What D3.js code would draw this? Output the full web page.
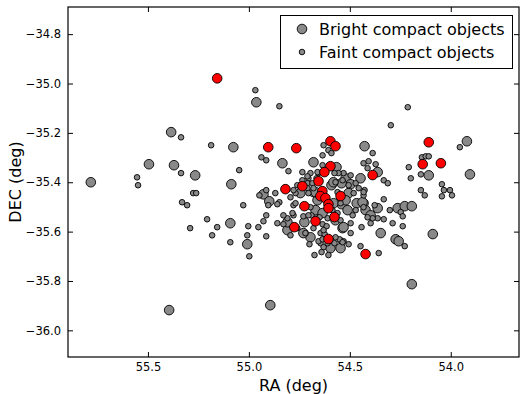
<!DOCTYPE html>
<html>
<head>
<meta charset="utf-8">
<script src="https://cdn.jsdelivr.net/npm/d3@7"></script>
<style>
	html, body { margin: 0; padding: 0; background: #fff; }
	svg { display: block; font-family: "DejaVu Sans", sans-serif; }
</style>
</head>
<body>
<svg id="chart"></svg>
<script>
// bright compact objects [RA, DEC]
const bright = [
	[55.783,-35.400],[55.495,-35.327],[55.385,-35.197],[55.371,-35.331],[55.266,-35.372],
	[55.087,-35.408],[55.077,-35.258],[54.963,-35.076],[55.092,-35.566],[55.008,-35.651],
	[55.395,-35.918],[54.928,-35.449],[54.899,-35.477],[54.834,-35.323],[54.680,-35.319],
	[54.427,-35.254],[54.566,-35.339],[54.447,-35.384],[54.521,-35.384],[53.920,-35.234],
	[54.109,-35.372],[53.905,-35.368],[54.362,-35.359],[54.432,-35.485],[54.422,-35.513],
	[54.397,-35.534],[54.362,-35.505],[54.263,-35.505],[54.228,-35.497],[54.193,-35.497],
	[54.347,-35.606],[54.273,-35.631],[54.258,-35.639],[54.089,-35.610],[54.193,-35.813],
	[54.894,-35.898],[54.809,-35.594],[54.725,-35.562],[54.695,-35.623],[54.536,-35.586],
	[54.596,-35.667],[54.546,-35.667],[54.541,-35.489],[54.571,-35.554],[54.665,-35.525],
	[54.466,-35.485],[54.591,-35.412],[54.496,-35.408],[54.745,-35.444],[54.680,-35.440],
	[54.506,-35.444],[54.521,-35.473],[54.437,-35.481],[54.660,-35.473],[54.581,-35.485],
	[54.670,-35.513],[54.635,-35.525],[54.511,-35.513],[54.531,-35.582],[54.730,-35.606],
	[54.541,-35.404],[54.581,-35.400],[54.670,-35.440],[54.809,-35.562],
];

// faint compact objects [RA, DEC]
const faint = [
	[54.968,-35.027],[55.336,-35.218],[55.187,-35.250],[55.336,-35.363],[55.554,-35.380],
	[55.549,-35.412],[55.048,-35.351],[55.276,-35.444],[55.261,-35.444],[54.849,-35.092],
	[54.213,-35.096],[54.297,-35.169],[53.955,-35.258],[54.630,-35.250],[54.635,-35.291],
	[54.606,-35.270],[54.591,-35.282],[54.387,-35.282],[54.432,-35.323],[54.407,-35.315],
	[54.372,-35.327],[54.412,-35.343],[54.635,-35.331],[54.804,-35.355],[54.938,-35.299],
	[54.914,-35.311],[54.208,-35.339],[54.198,-35.384],[54.143,-35.299],[54.124,-35.295],
	[54.109,-35.295],[54.148,-35.368],[54.044,-35.408],[54.034,-35.432],[54.004,-35.432],
	[53.994,-35.453],[54.129,-35.453],[54.044,-35.457],[54.332,-35.392],[54.312,-35.404],
	[54.496,-35.372],[54.531,-35.363],[54.556,-35.363],[54.695,-35.363],[54.705,-35.384],
	[54.710,-35.404],[54.769,-35.444],[54.655,-35.363],[55.331,-35.481],[55.306,-35.493],
	[55.207,-35.550],[55.157,-35.582],[55.291,-35.586],[55.182,-35.615],[55.028,-35.493],
	[55.003,-35.578],[55.008,-35.615],[55.092,-35.643],[54.998,-35.700],[54.953,-35.582],
	[54.948,-35.453],[54.914,-35.432],[54.914,-35.534],[54.928,-35.558],[54.914,-35.619],
	[54.849,-35.481],[54.904,-35.493],[54.859,-35.489],[54.779,-35.493],[54.829,-35.570],
	[54.809,-35.546],[54.779,-35.534],[54.730,-35.538],[54.690,-35.534],[54.650,-35.542],
	[54.635,-35.570],[54.615,-35.578],[54.645,-35.606],[54.625,-35.610],[54.700,-35.651],
	[54.675,-35.695],[54.645,-35.647],[54.630,-35.663],[54.640,-35.683],[54.606,-35.695],
	[54.576,-35.647],[54.546,-35.635],[54.531,-35.639],[54.506,-35.651],[54.496,-35.606],
	[54.486,-35.534],[54.442,-35.582],[54.447,-35.659],[54.397,-35.566],[54.357,-35.687],
	[54.332,-35.550],[54.288,-35.566],[54.238,-35.578],[54.228,-35.659],[54.302,-35.513],
	[54.148,-35.432],[54.720,-35.606],[54.655,-35.639],[54.635,-35.631],[54.610,-35.647],
	[54.551,-35.631],[54.536,-35.643],[54.427,-35.432],[54.432,-35.453],[54.248,-35.521],
	[54.238,-35.538],[54.362,-35.546],[54.387,-35.546],[54.412,-35.542],[54.377,-35.493],
	[54.332,-35.469],[54.576,-35.363],[54.710,-35.376],[54.665,-35.384],[54.660,-35.359],
	[54.735,-35.392],[54.760,-35.412],[54.779,-35.432],[54.685,-35.404],[54.680,-35.424],
	[54.710,-35.424],[54.705,-35.444],[54.571,-35.400],[54.536,-35.392],[54.506,-35.412],
	[54.471,-35.404],[54.456,-35.424],[54.432,-35.440],[54.481,-35.444],[54.561,-35.440],
	[54.794,-35.461],[54.869,-35.444],[54.769,-35.485],[54.695,-35.501],[54.586,-35.513],
	[54.561,-35.525],[54.546,-35.485],[54.471,-35.513],[54.432,-35.501],[54.610,-35.546],
	[54.546,-35.554],[54.496,-35.566],[54.705,-35.534],[54.784,-35.525],[54.829,-35.534],
	[54.859,-35.566],[54.760,-35.586],[54.680,-35.586],[54.630,-35.594],[54.571,-35.623],
	[54.794,-35.615],[54.735,-35.359],
];

// highlighted objects (red) [RA, DEC]
const marked = [
	[55.157,-34.979],[54.904,-35.258],[54.765,-35.262],[54.596,-35.234],[54.571,-35.254],
	[54.596,-35.335],[54.626,-35.359],[54.387,-35.371],[54.109,-35.238],[54.139,-35.327],
	[54.049,-35.323],[54.735,-35.416],[54.819,-35.428],[54.655,-35.396],[54.636,-35.436],
	[54.646,-35.456],[54.621,-35.464],[54.546,-35.456],[54.725,-35.497],[54.606,-35.489],
	[54.606,-35.505],[54.576,-35.541],[54.670,-35.558],[54.775,-35.582],[54.606,-35.630],
	[54.422,-35.691],
];

const xTicks = [55.5, 55.0, 54.5, 54.0];
const yTicks = [-34.8, -35.0, -35.2, -35.4, -35.6, -35.8, -36.0];
const legendLabels = ["Bright compact objects", "Faint compact objects"];

const width = 520;
const height = 394;
const margin = { top: 7, right: 1, bottom: 37, left: 68 };

const svg = d3.select("#chart")
              .attr("width", width)
              .attr("height", height);

const xScale = d3.scaleLinear([55.896, 53.662], [margin.left, width - margin.right]);
const yScale = d3.scaleLinear([-36.108, -34.69], [height - margin.bottom, margin.top]);

const fmt = d => d3.format(".1f")(d).replace("-", "\u2212");
const tickLen = 5;

// axes, ticks pointing inwards on all four sides
const axes = [
	{ axis: d3.axisBottom(xScale).tickValues(xTicks).tickFormat(fmt), y: height - margin.bottom, x: 0, inner: -tickLen, label: true },
	{ axis: d3.axisTop(xScale).tickValues(xTicks).tickFormat(""), y: margin.top, x: 0, inner: tickLen, label: false },
	{ axis: d3.axisLeft(yScale).tickValues(yTicks).tickFormat(fmt), y: 0, x: margin.left, inner: tickLen, label: true },
	{ axis: d3.axisRight(yScale).tickValues(yTicks).tickFormat(""), y: 0, x: width - margin.right, inner: -tickLen, label: false },
];

axes.forEach((a, i) => {
	const g = svg.append("g")
	             .attr("transform", `translate(${a.x},${a.y})`)
	             .call(a.axis.tickSizeOuter(0).tickSizeInner(0).tickPadding(i < 2 ? 6 : 7));
	g.select(".domain").remove();
	g.selectAll(".tick text")
	 .attr("font-size", 11.5)
	 .attr("font-family", "DejaVu Sans")
	 .attr("fill", "#000");
	g.selectAll(".tick line")
	 .attr(i < 2 ? "y2" : "x2", a.inner)
	 .attr("stroke", "#000");
});

// frame
svg.append("rect")
   .attr("x", margin.left)
   .attr("y", margin.top)
   .attr("width", width - margin.left - margin.right)
   .attr("height", height - margin.top - margin.bottom)
   .attr("fill", "none")
   .attr("stroke", "#000")
   .attr("stroke-width", 1.2);

// points
const layers = [
	{ data: bright, r: 4.8, fill: "#898989" },
	{ data: faint, r: 2.8, fill: "#898989" },
	{ data: marked, r: 4.8, fill: "#ff0000" },
];

const plot = svg.append("g");
layers.forEach(l => {
	plot.append("g")
	    .selectAll("circle")
	    .data(l.data)
	    .join("circle")
	    .attr("cx", d => xScale(d[0]))
	    .attr("cy", d => yScale(d[1]))
	    .attr("r", l.r)
	    .attr("fill", l.fill)
	    .attr("stroke", "#000")
	    .attr("stroke-width", 0.9);
});

// axis labels
svg.append("text")
   .attr("x", (margin.left + width - margin.right) / 2)
   .attr("y", 391)
   .attr("text-anchor", "middle")
   .attr("font-size", 16)
   .text("RA (deg)");

svg.append("text")
   .attr("transform", `translate(21,${(margin.top + height - margin.bottom) / 2}) rotate(-90)`)
   .attr("text-anchor", "middle")
   .attr("font-size", 16)
   .text("DEC (deg)");

// legend
const legend = svg.append("g");
legend.append("rect")
      .attr("x", 280.5)
      .attr("y", 15.5)
      .attr("width", 232)
      .attr("height", 53)
      .attr("fill", "#fff")
      .attr("stroke", "#000");

legendLabels.forEach((t, i) => {
	const cy = 29 + i * 23;
	legend.append("circle")
	      .attr("cx", 302)
	      .attr("cy", cy)
	      .attr("r", i === 0 ? 4.8 : 2.8)
	      .attr("fill", "#898989")
	      .attr("stroke", "#000")
	      .attr("stroke-width", 0.9);
	legend.append("text")
	      .attr("x", 319)
	      .attr("y", cy + 6)
	      .attr("font-size", 16)
	      .text(t);
});
</script>
</body>
</html>
